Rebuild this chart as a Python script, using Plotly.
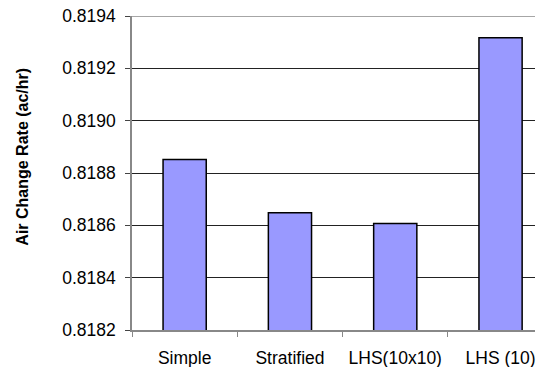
import plotly.graph_objects as go

categories = ["Simple", "Stratified", "LHS(10x10)", "LHS (10)"]
values = [0.818852, 0.818648, 0.818607, 0.819317]
y_ticks = [0.8182, 0.8184, 0.8186, 0.8188, 0.8190, 0.8192, 0.8194]

fig = go.Figure(go.Bar(
    x=categories, y=values,
    marker=dict(color="#9999FF", line=dict(color="black", width=1.5)),
    width=0.41,
))

plot_l = 132
plot_w = 403
fig.update_layout(
    width=543, height=367,
    margin=dict(l=plot_l, r=543 - plot_l - plot_w, t=16, b=36.5, autoexpand=False),
    paper_bgcolor="white", plot_bgcolor="white",
    font=dict(family="Liberation Sans, Arial, sans-serif", color="black"),
    showlegend=False,
    xaxis=dict(
        range=[-0.5, -0.5 + plot_w / 105.3], automargin=False,
        showline=True, linecolor="#888888", linewidth=1.5,
        ticks="outside", tickson="boundaries", ticklen=5, tickcolor="#888888",
        tickfont=dict(size=17.5), ticklabelstandoff=11, showgrid=False,
    ),
    yaxis=dict(
        range=[0.8182, 0.81940001], tickvals=y_ticks, tickformat=".4f",
        automargin=False,
        showline=True, linecolor="#888888", linewidth=1.5,
        ticks="outside", ticklen=5, tickcolor="#444444",
        tickfont=dict(size=17.5), ticklabelstandoff=6,
        ticklabeloverflow="allow",
        showgrid=True, gridcolor="#222222", gridwidth=1,
        zeroline=False,
    ),
    shapes=[dict(
        type="line", xref="paper", yref="y", x0=0, x1=1,
        y0=y_ticks[-1], y1=y_ticks[-1],
        line=dict(color="#888888", width=1.5), layer="above",
    )],
    annotations=[dict(
        text="<b>Air Change Rate (ac/hr)</b>", textangle=-90,
        xref="paper", yref="paper", x=(23 - plot_l) / plot_w, y=0.552,
        xanchor="center", yanchor="middle", showarrow=False,
        font=dict(size=16),
    )],
)

fig.write_html(
    "out.html",
    config={"displayModeBar": False},
    post_script="document.body.style.margin='0';",
)
